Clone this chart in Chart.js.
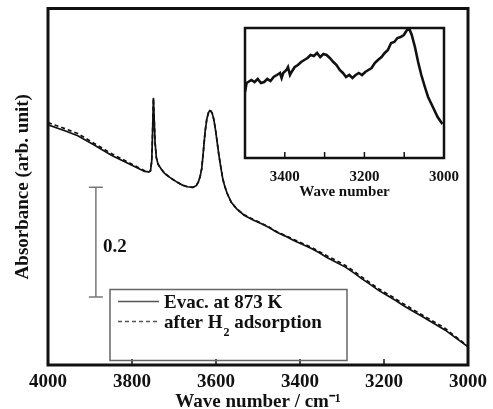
<!DOCTYPE html>
<html>
<head>
<meta charset="utf-8">
<script src="https://cdn.jsdelivr.net/npm/chart.js@4/dist/chart.umd.min.js"></script>
<style>
  html, body { margin: 0; padding: 0; background: #ffffff; }
  #wrap { position: relative; width: 493px; height: 409px; }
  #main { position: absolute; left: 0; top: 0; }
  #inset { position: absolute; left: 235px; top: 20px; }
</style>
</head>
<body>
<div id="wrap">
  <canvas id="main" width="493" height="409"></canvas>
  <canvas id="inset" width="234" height="182"></canvas>
</div>
<script>
// ---------- data ----------
const wavenumbers = [
  4000, 3960, 3929, 3890, 3848, 3810, 3770, 3760, 3756, 3753,
  3751, 3749, 3747, 3745, 3742, 3738, 3730, 3723, 3710, 3692,
  3680, 3668, 3655, 3647, 3642, 3638, 3634, 3630, 3626, 3622,
  3618, 3615, 3612, 3609, 3605, 3601, 3597, 3593, 3588, 3584,
  3580, 3574, 3564, 3550, 3533, 3513, 3493, 3475, 3455, 3435,
  3415, 3395, 3374, 3355, 3336, 3315, 3291, 3270, 3254, 3233,
  3213, 3193, 3173, 3155, 3135, 3115, 3095, 3075, 3055, 3030,
  3000
];
const evacValues = [
  0.438, 0.427, 0.418, 0.401, 0.382, 0.368, 0.353, 0.352, 0.354, 0.372,
  0.425, 0.487, 0.445, 0.405, 0.378, 0.366, 0.357, 0.350, 0.342, 0.333,
  0.328, 0.325, 0.324, 0.327, 0.334, 0.343, 0.358, 0.390, 0.425, 0.448,
  0.460, 0.464, 0.463, 0.459, 0.447, 0.428, 0.405, 0.382, 0.358, 0.340,
  0.328, 0.314, 0.297, 0.284, 0.273, 0.265, 0.258, 0.251, 0.242, 0.235,
  0.227, 0.220, 0.213, 0.205, 0.196, 0.188, 0.178, 0.167, 0.158, 0.147,
  0.136, 0.127, 0.118, 0.109, 0.100, 0.091, 0.082, 0.073, 0.064, 0.050,
  0.033
];
const h2Values = [
  0.442, 0.431, 0.422, 0.404, 0.385, 0.370, 0.354, 0.352, 0.354, 0.372,
  0.425, 0.486, 0.445, 0.405, 0.378, 0.366, 0.357, 0.350, 0.342, 0.333,
  0.328, 0.325, 0.324, 0.327, 0.334, 0.343, 0.358, 0.390, 0.425, 0.448,
  0.460, 0.464, 0.463, 0.459, 0.447, 0.428, 0.405, 0.382, 0.358, 0.340,
  0.328, 0.314, 0.297, 0.284, 0.274, 0.266, 0.259, 0.252, 0.243, 0.236,
  0.229, 0.222, 0.215, 0.207, 0.199, 0.191, 0.181, 0.170, 0.161, 0.150,
  0.139, 0.130, 0.121, 0.112, 0.103, 0.094, 0.085, 0.076, 0.067, 0.052,
  0.034
];
const seriesLabels = ['Evac. at 873 K', 'after H\u2082 adsorption'];
const xTickStep = 200;
const xRange = [3000, 4000];
const yRange = [0, 0.65];
const scaleBarX = [3886, 3886];
const scaleBarValues = [0.324, 0.124];
const scaleBarLabel = '0.2';
const xTitle = 'Wave number / cm\u207B\u00B9';
const yTitle = 'Absorbance (arb. unit)';

const insetWavenumbers = [
  3500, 3496, 3492, 3484, 3476, 3468, 3460, 3452, 3444, 3436,
  3428, 3420, 3412, 3408, 3404, 3396, 3392, 3387, 3383, 3375,
  3367, 3359, 3351, 3343, 3335, 3327, 3319, 3311, 3303, 3295,
  3287, 3278, 3270, 3262, 3254, 3246, 3238, 3230, 3222, 3214,
  3206, 3198, 3190, 3182, 3174, 3166, 3157, 3149, 3141, 3133,
  3125, 3117, 3109, 3101, 3093, 3087, 3081, 3073, 3065, 3057,
  3048, 3040, 3028, 3016, 3004
];
const insetValues = [
  66, 75, 76, 78, 76, 79, 75, 76, 79, 77,
  81, 83, 85, 80, 85, 88, 91, 83, 86, 91,
  93, 96, 98, 100, 103, 102, 105, 101, 104, 103,
  100, 96, 93, 88, 85, 81, 83, 80, 83, 85,
  83, 86, 88, 90, 95, 98, 101, 105, 108, 115,
  116, 120, 121, 123, 128, 129, 123, 111, 96, 83,
  71, 61, 51, 41, 34
];
const insetXRange = [3000, 3500];
const insetYRange = [0, 130];
const insetTickStep = 100;
const insetLabelStep = 200;
const insetTitle = 'Wave number';

// ---------- helpers ----------
const SERIF = "'Liberation Serif', 'Times New Roman', serif";
const toXY = (xs, ys) => xs.map((x, i) => ({ x: x, y: ys[i] }));

function drawRich(ctx, text, x, y, size) {
  const parts = text.split('\u2082');
  ctx.fillText(parts[0], x, y);
  if (parts.length < 2) return;
  let w = ctx.measureText(parts[0]).width;
  const saved = ctx.font;
  ctx.font = 'bold ' + Math.round(size * 0.62) + 'px ' + SERIF;
  ctx.fillText('2', x + w + 1, y + 9);
  w += ctx.measureText('2').width + 1;
  ctx.font = saved;
  ctx.fillText(parts[1], x + w, y);
}

const mainDecor = {
  id: 'mainDecor',
  afterDraw(chart) {
    const ctx = chart.ctx;
    const a = chart.chartArea;
    const xs = chart.scales.x, ys = chart.scales.y;
    ctx.save();
    // frame
    ctx.strokeStyle = '#111';
    ctx.lineWidth = 3;
    ctx.strokeRect(a.left, a.top, a.right - a.left, a.bottom - a.top);
    // inward tick marks
    ctx.lineWidth = 1.5;
    xs.ticks.forEach(t => {
      const px = xs.getPixelForValue(t.value);
      ctx.beginPath();
      ctx.moveTo(px, a.bottom);
      ctx.lineTo(px, a.bottom - 6);
      ctx.stroke();
    });
    // scale bar label
    const bx = xs.getPixelForValue(scaleBarX[0]);
    const by = (ys.getPixelForValue(scaleBarValues[0]) + ys.getPixelForValue(scaleBarValues[1])) / 2;
    ctx.fillStyle = '#111';
    ctx.font = 'bold 19px ' + SERIF;
    ctx.textAlign = 'left';
    ctx.textBaseline = 'middle';
    ctx.fillText(scaleBarLabel, bx + 7, by + 5);
    // legend
    const lx = a.left + 62, ly = a.top + 281, lw = 237, lh = 71;
    ctx.strokeStyle = '#666';
    ctx.lineWidth = 1.5;
    ctx.strokeRect(lx, ly, lw, lh);
    const rows = [ly + 14, ly + 34];
    const dsList = chart.data.datasets.filter(d => d.inLegend);
    dsList.forEach((d, i) => {
      const ry = rows[i];
      ctx.strokeStyle = '#555';
      ctx.lineWidth = 1.5;
      ctx.setLineDash(d.borderDash || []);
      ctx.beginPath();
      ctx.moveTo(lx + 8, ry - 2);
      ctx.lineTo(lx + 49, ry - 2);
      ctx.stroke();
      ctx.setLineDash([]);
      ctx.fillStyle = '#111';
      ctx.font = 'bold 19px ' + SERIF;
      drawRich(ctx, d.label, lx + 54, ry, 19);
    });
    ctx.restore();
  }
};

new Chart(document.getElementById('main'), {
  type: 'line',
  data: {
    datasets: [
      {
        label: seriesLabels[0], inLegend: true,
        data: toXY(wavenumbers, evacValues),
        borderColor: '#111', borderWidth: 1.7, pointRadius: 0, tension: 0, fill: false
      },
      {
        label: seriesLabels[1], inLegend: true,
        data: toXY(wavenumbers, h2Values),
        borderColor: '#111', borderWidth: 1.7, borderDash: [4, 3], pointRadius: 0, tension: 0, fill: false
      },
      {
        label: 'scale', inLegend: false,
        data: toXY(scaleBarX, scaleBarValues),
        borderColor: '#777', borderWidth: 1.5,
        pointStyle: 'line', pointRadius: 7, pointBorderWidth: 1.5, pointBorderColor: '#777',
        tension: 0, fill: false
      }
    ]
  },
  options: {
    responsive: false,
    animation: false,
    layout: { padding: { left: 0, top: 8, right: 23, bottom: 0 } },
    plugins: { legend: { display: false }, tooltip: { enabled: false } },
    scales: {
      x: {
        type: 'linear', reverse: true, min: xRange[0], max: xRange[1],
        grid: { display: false, drawTicks: false },
        border: { display: false },
        ticks: { stepSize: xTickStep, color: '#111', padding: 6, maxRotation: 0,
                 callback: v => String(v),
                 font: { family: SERIF, size: 19, weight: 'bold' } },
        title: { display: true, text: xTitle, color: '#111', padding: { top: 0, bottom: 0 },
                 font: { family: SERIF, size: 19, weight: 'bold', lineHeight: 0.7 } },
        afterFit: s => { s.height = 44; }
      },
      y: {
        type: 'linear', min: yRange[0], max: yRange[1],
        grid: { display: false, drawTicks: false },
        border: { display: false },
        ticks: { display: false },
        title: { display: true, text: yTitle, color: '#111', padding: { top: 12, bottom: 0 },
                 font: { family: SERIF, size: 19, weight: 'bold' } },
        afterFit: s => { s.width = 48; }
      }
    }
  },
  plugins: [mainDecor]
});

const insetDecor = {
  id: 'insetDecor',
  beforeDraw(chart) {
    const ctx = chart.ctx, a = chart.chartArea;
    ctx.save();
    ctx.fillStyle = '#ffffff';
    ctx.fillRect(a.left, a.top, a.right - a.left, a.bottom - a.top);
    ctx.restore();
  },
  afterDraw(chart) {
    const ctx = chart.ctx, a = chart.chartArea, xs = chart.scales.x;
    ctx.save();
    ctx.strokeStyle = '#111';
    ctx.lineWidth = 2.5;
    ctx.strokeRect(a.left, a.top, a.right - a.left, a.bottom - a.top);
    ctx.lineWidth = 1.5;
    xs.ticks.forEach(t => {
      const px = xs.getPixelForValue(t.value);
      ctx.beginPath();
      ctx.moveTo(px, a.bottom);
      ctx.lineTo(px, a.bottom - 6);
      ctx.stroke();
    });
    ctx.restore();
  }
};

new Chart(document.getElementById('inset'), {
  type: 'line',
  data: {
    datasets: [{
      label: 'inset',
      data: toXY(insetWavenumbers, insetValues),
      borderColor: '#111', borderWidth: 2.6, pointRadius: 0, tension: 0, fill: false
    }]
  },
  options: {
    responsive: false,
    animation: false,
    layout: { padding: { left: 10, top: 8, right: 19, bottom: 0 } },
    plugins: { legend: { display: false }, tooltip: { enabled: false } },
    scales: {
      x: {
        type: 'linear', reverse: true, min: insetXRange[0], max: insetXRange[1],
        grid: { display: false, drawTicks: false },
        border: { display: false },
        ticks: { stepSize: insetTickStep, color: '#111', padding: 10, maxRotation: 0, autoSkip: false,
                 callback: v => (v % insetLabelStep === 0 ? String(v) : ''),
                 font: { family: SERIF, size: 15, weight: 'bold' } },
        title: { display: true, text: insetTitle, color: '#111', padding: { top: 0, bottom: 1 },
                 font: { family: SERIF, size: 15, weight: 'bold' } },
        afterFit: s => { s.height = 44; }
      },
      y: {
        display: false, min: insetYRange[0], max: insetYRange[1]
      }
    }
  },
  plugins: [insetDecor]
});
</script>
</body>
</html>
